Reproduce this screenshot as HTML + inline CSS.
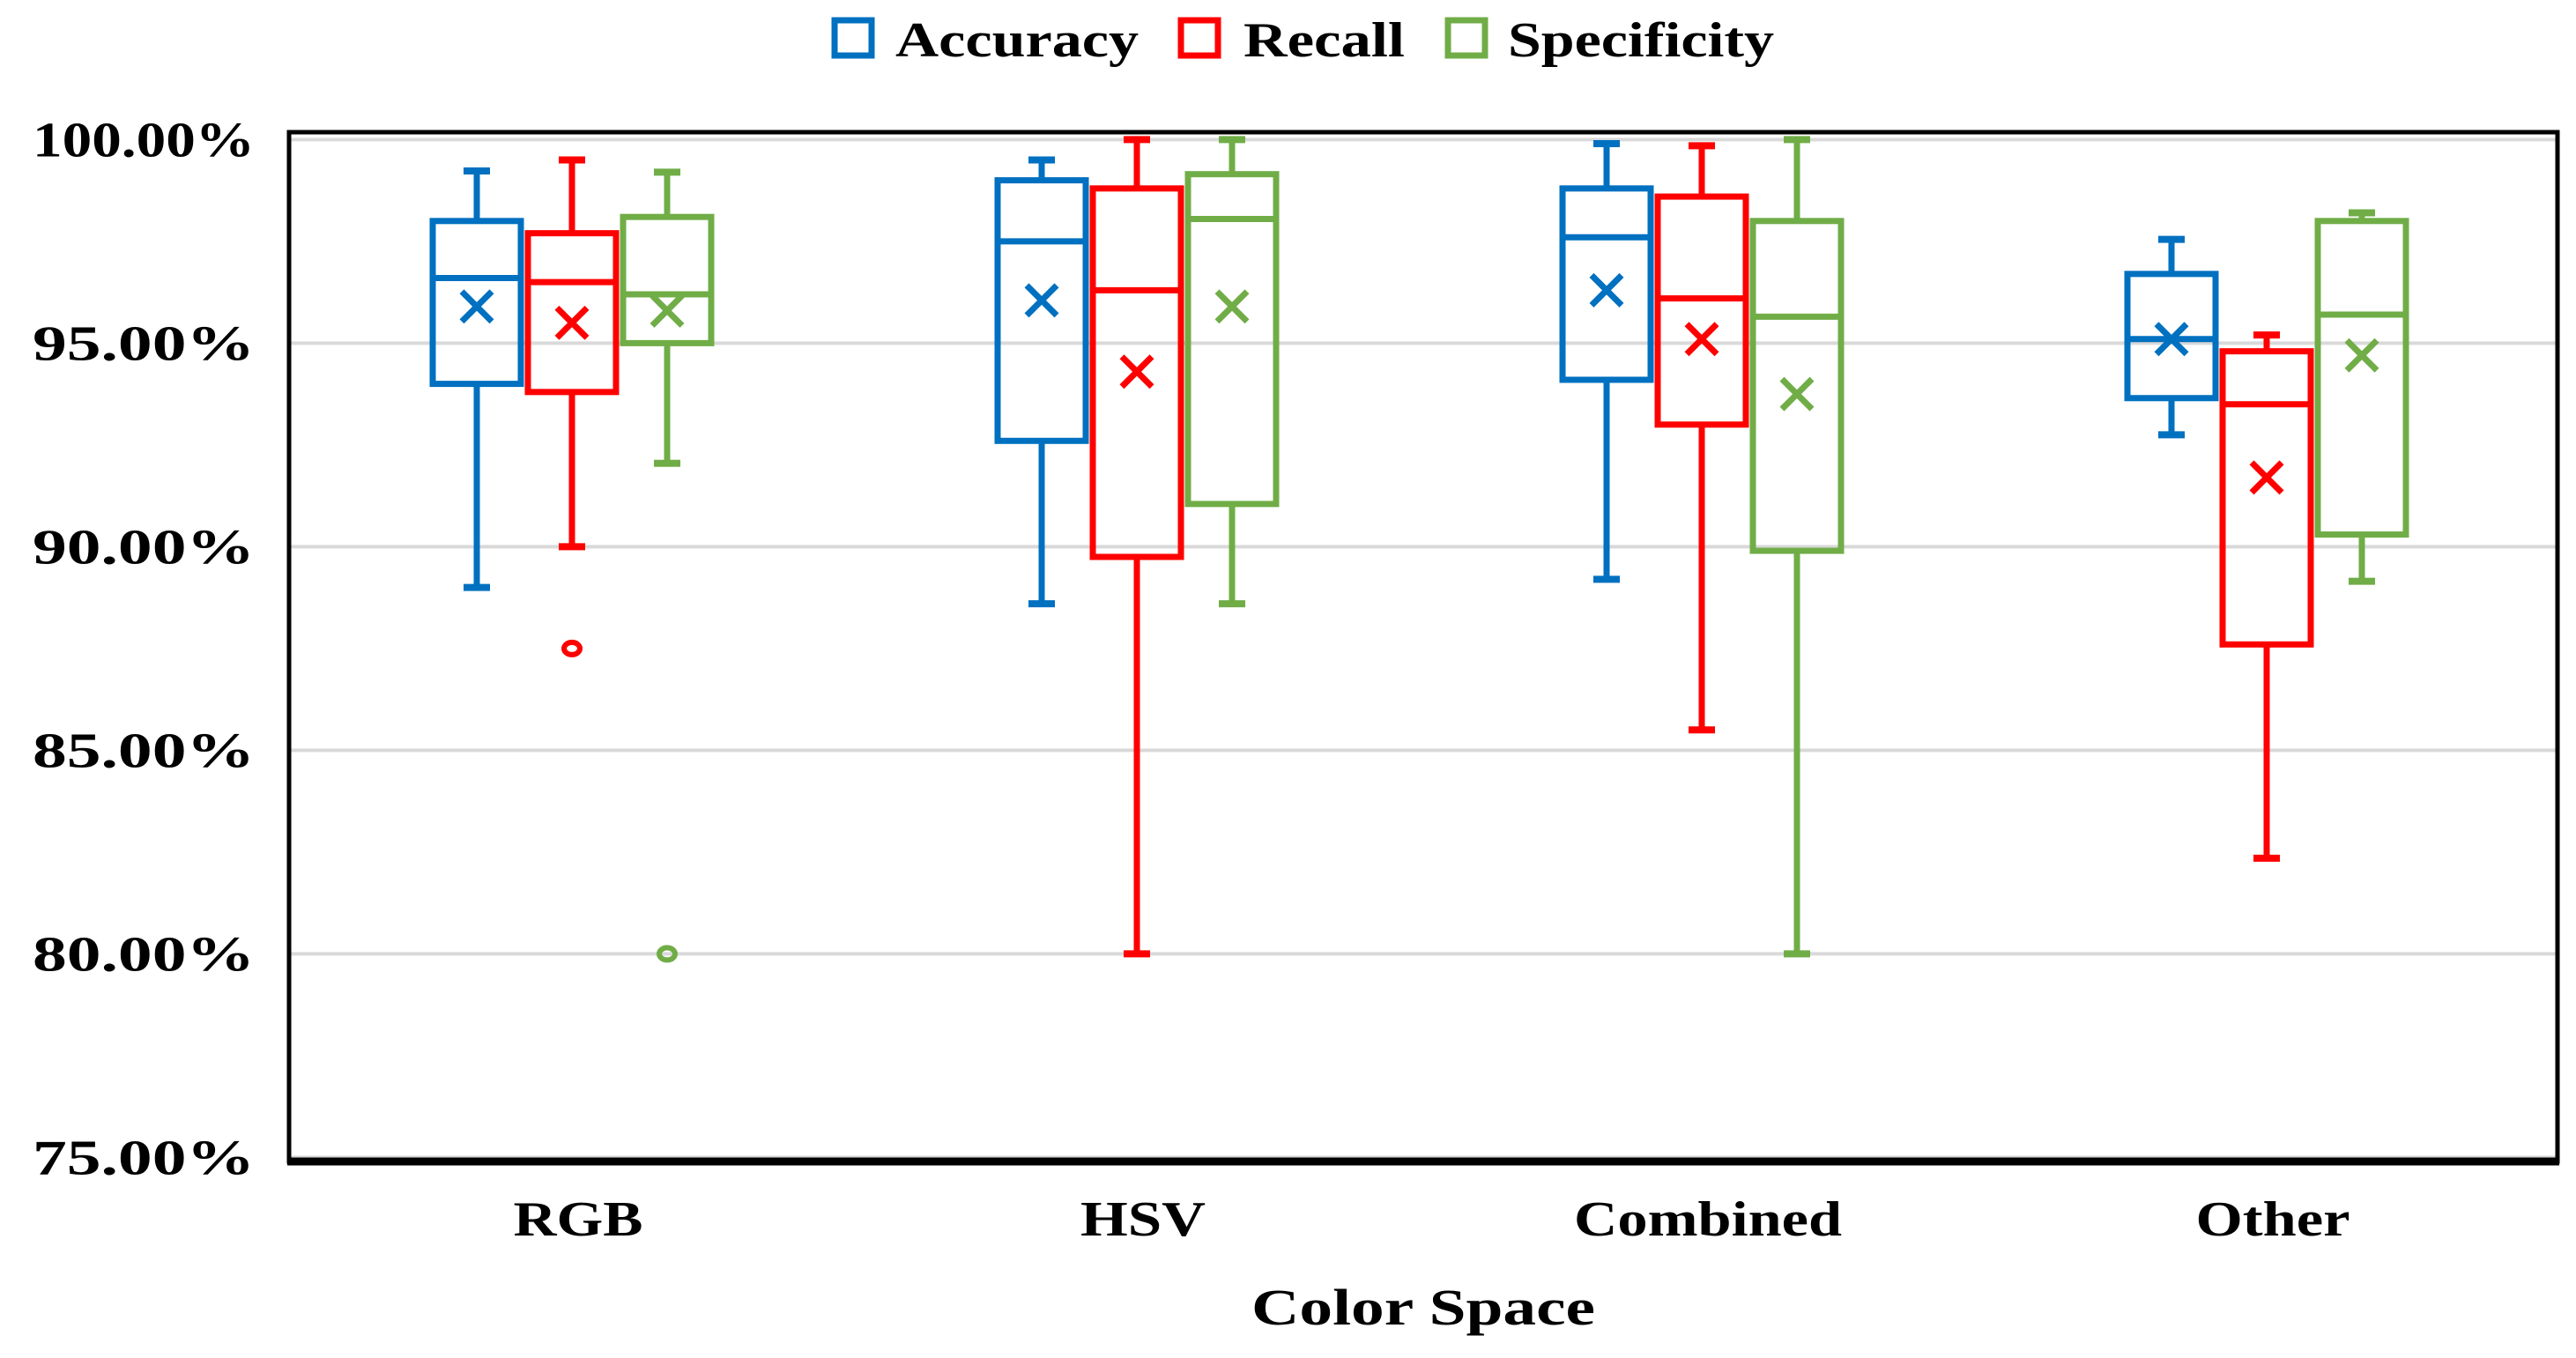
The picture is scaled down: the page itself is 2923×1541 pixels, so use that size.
<!DOCTYPE html>
<html><head><meta charset="utf-8"><style>
html,body{margin:0;padding:0;background:#fff;}
svg{display:block;}
text{font-family:"Liberation Serif",serif;font-weight:bold;fill:#000;}
</style></head><body>
<svg id="chart" width="2923" height="1541" viewBox="0 0 2923 1541" xmlns="http://www.w3.org/2000/svg">
<g id="grid"></g>
<g id="yticks"></g>
<g id="boxes"></g>
<rect x="328" y="150" width="2574" height="1168" fill="none" stroke="#000" stroke-width="5"/>
<line x1="326" y1="1318" x2="2904" y2="1318" stroke="#000" stroke-width="9"/>
<g id="xlabels"></g>
<text x="1615" y="1503" font-size="58" text-anchor="middle" textLength="390" lengthAdjust="spacingAndGlyphs">Color Space</text>
<g>
<g>
<rect x="947" y="23" width="42" height="40" fill="none" stroke="#0070C0" stroke-width="7"/>
<text x="1016" y="64" font-size="56" textLength="276" lengthAdjust="spacingAndGlyphs">Accuracy</text></g>
<g>
<rect x="1340" y="23" width="42" height="40" fill="none" stroke="#FF0000" stroke-width="7"/>
<text x="1411" y="64" font-size="56" textLength="183" lengthAdjust="spacingAndGlyphs">Recall</text></g>
<g>
<rect x="1643" y="23" width="42" height="40" fill="none" stroke="#70AD47" stroke-width="7"/>
<text x="1711" y="64" font-size="56" textLength="302" lengthAdjust="spacingAndGlyphs">Specificity</text></g>
</g>
</svg>
<script>
const categories = ["RGB","HSV","Combined","Other"];
const seriesNames = ["Accuracy","Recall","Specificity"];
const seriesColors = ["#0070C0","#FF0000","#70AD47"];
const yTicks = [75,80,85,90,95,100];
const yTickLabels = ["75.00%","80.00%","85.00%","90.00%","95.00%","100.00%"];
// per category: [Accuracy, Recall, Specificity]
const minVals    = [[89.0,90.0,92.05],[88.6,80.0,88.6],[89.2,85.5,80.0],[92.75,82.35,89.15]];
const q1Vals     = [[94.0,93.8,95.0],[92.6,89.75,91.05],[94.1,93.0,89.9],[93.65,87.6,90.3]];
const medianVals = [[96.6,96.5,96.2],[97.5,96.3,98.05],[97.6,96.1,95.65],[95.1,93.5,95.7]];
const q3Vals     = [[98.0,97.7,98.1],[99.0,98.8,99.15],[98.8,98.6,98.0],[96.7,94.8,98.0]];
const maxVals    = [[99.23,99.5,99.2],[99.5,100,100],[99.9,99.85,100],[97.55,95.2,98.2]];
const meanVals   = [[95.9,95.5,95.8],[96.05,94.3,95.9],[96.3,95.1,93.75],[95.1,91.7,94.7]];
const outlierVals= [[[],[87.5],[80.0]],[[],[],[]],[[],[],[]],[[],[],[]]];

const NS="http://www.w3.org/2000/svg";
const yScale = v => 158.4 + (100 - v) * 46.2;
const xCenter = i => 649 + i * 641;
const xOffset = s => (s - 1) * 108;
const labelWidths = [147,142,304,175];
const boxW = 100, capW = 30, xs = 17;
function mk(tag, attrs, parent){const e=document.createElementNS(NS,tag);for(const k in attrs)e.setAttribute(k,attrs[k]);parent.appendChild(e);return e;}
const grid=document.getElementById('grid'), yt=document.getElementById('yticks'), bx=document.getElementById('boxes'), xl=document.getElementById('xlabels');
yTicks.forEach((t,i)=>{
  const y=yScale(t);
  const l=mk('line',{x1:330,x2:2900,y1:y,y2:y,stroke:'#d9d9d9','stroke-width':4},grid);
  
  
  const tx=mk('text',{x:289,y:y+19,'font-size':56,'text-anchor':'end',textLength:252,lengthAdjust:'spacingAndGlyphs'},yt);
  tx.textContent=yTickLabels[i];
  
  
});
categories.forEach((c,i)=>{
  const tx=mk('text',{x:xCenter(i)+7,y:1402,'font-size':56,'text-anchor':'middle',textLength:labelWidths[i],lengthAdjust:'spacingAndGlyphs'},xl);
  tx.textContent=c;
  
  
  seriesNames.forEach((s,j)=>{
    const cx=xCenter(i)+xOffset(j), col=seriesColors[j], sw=7;
    const g=mk('g',{stroke:col,'stroke-width':sw,fill:'none'},bx);
    
    
    const yMin=yScale(minVals[i][j]), yQ1=yScale(q1Vals[i][j]), yMed=yScale(medianVals[i][j]), yQ3=yScale(q3Vals[i][j]), yMax=yScale(maxVals[i][j]), yMean=yScale(meanVals[i][j]);
    mk('line',{x1:cx,x2:cx,y1:yMax,y2:yQ3},g);
    mk('line',{x1:cx,x2:cx,y1:yQ1,y2:yMin},g);
    mk('line',{x1:cx-capW/2,x2:cx+capW/2,y1:yMax,y2:yMax,'stroke-width':8},g);
    mk('line',{x1:cx-capW/2,x2:cx+capW/2,y1:yMin,y2:yMin,'stroke-width':8},g);
    mk('rect',{x:cx-boxW/2,y:yQ3,width:boxW,height:yQ1-yQ3,fill:'none'},g);
    mk('line',{x1:cx-boxW/2,x2:cx+boxW/2,y1:yMed,y2:yMed},g);
    mk('path',{d:`M${cx-xs} ${yMean-xs}L${cx+xs} ${yMean+xs}M${cx-xs} ${yMean+xs}L${cx+xs} ${yMean-xs}`,'stroke-width':7},g);
    outlierVals[i][j].forEach(o=>{
      const e=mk('ellipse',{cx:cx,cy:yScale(o),rx:9,ry:7,'stroke-width':6},g);
      
      
    });
  });
});
</script>
</body></html>
